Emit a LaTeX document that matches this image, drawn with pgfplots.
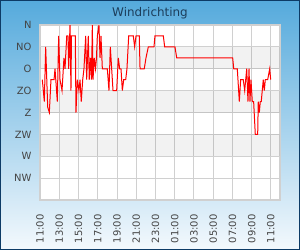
\documentclass[border=0pt]{standalone}
\usepackage{pgfplots}
\pgfplotsset{compat=1.18}
\usepackage{fontspec}
\setmainfont{DejaVu Sans}
\definecolor{bgtop}{HTML}{55AADC}
\definecolor{bgbot}{HTML}{F4F9FD}
\definecolor{frame}{HTML}{0D3B66}
\definecolor{titlec}{HTML}{1C3D5A}
\definecolor{gridc}{HTML}{D0D0D0}
\definecolor{tickc}{HTML}{444444}
\begin{document}
\begin{tikzpicture}[x=1bp,y=1bp]
\shade[top color=bgtop, bottom color=bgbot] (0,0) rectangle (300,250);
\draw[frame, line width=1.5bp] (0.75,0.75) rectangle (299.25,249.25);
\node[titlec, font=\fontsize{12}{14}\selectfont] at (150,237) {Windrichting};
\begin{axis}[
  at={(40bp,50bp)}, anchor=south west,
  width=240bp, height=175bp, scale only axis,
  xmin=0, xmax=24.95, ymin=0, ymax=8,
  y dir=reverse,
  axis background/.style={fill=white},
  ytick={0,1,2,3,4,5,6,7},
  yticklabels={N,NO,O,ZO,Z,ZW,W,NW},
  xtick={0,2,4,6,8,10,12,14,16,18,20,22,24},
  xticklabels={11:00,13:00,15:00,17:00,19:00,21:00,23:00,01:00,03:00,05:00,07:00,09:00,11:00},
  major tick length=0pt,
  grid=major,
  grid style={gridc, line width=0.9bp},
  axis line style={gridc, line width=1.2bp},
  tick label style={tickc, font=\fontsize{10}{12}\selectfont},
  yticklabel style={xshift=-5bp},
  xticklabel style={rotate=90, anchor=east, xshift=-11bp},
]
\fill[black, fill opacity=0.05] (axis cs:0,1) rectangle (axis cs:24.95,2);
\fill[black, fill opacity=0.05] (axis cs:0,3) rectangle (axis cs:24.95,4);
\fill[black, fill opacity=0.05] (axis cs:0,5) rectangle (axis cs:24.95,6);
\addplot[red, line width=1bp, mark=none] coordinates {
(0.24,2.5)(0.45,3.5)(0.59,1)(0.80,3.75)(0.97,4)(1.14,2.5)(1.46,2.5)(1.56,2)
(1.80,3.5)(1.94,0.5)(2.08,2.5)(2.29,3)(2.49,1.5)(2.60,2)(2.78,0.5)(2.91,0.5)
(2.98,2)(3.12,0)(3.22,3)(3.27,0.5)(3.67,0.5)(3.74,4)(3.88,2.5)(4.05,3)
(4.16,2.5)(4.29,3.5)(4.44,2.5)(4.57,2)(4.75,0.5)(4.85,2.5)(5.02,0.5)(5.12,2.5)
(5.25,1.5)(5.35,2.5)(5.44,0)(5.51,2.5)(5.64,1.5)(5.77,2)(5.87,1.5)(5.96,0.5)
(6.13,0)(6.24,1.5)(6.34,0.5)(6.48,2)(7.00,2)(7.17,3)(7.31,1)(7.45,2)
(7.59,3)(7.97,3)(8.14,1.5)(8.28,2)(8.42,2)(8.56,3)(8.70,2.5)(8.91,2.5)
(9.04,2)(9.22,0.5)(9.70,0.5)(9.84,1)(9.98,0.5)(10.32,0.5)(10.40,2)(10.84,2)
(11.02,1.5)(11.26,1)(11.85,1)(11.95,0.5)(12.82,0.5)(12.96,1)(14.03,1)(14.21,1.5)
(20.03,1.5)(20.14,2)(20.51,2)(20.72,3.5)(20.86,2.5)(21.13,2.5)(21.28,3)(21.49,2)
(21.62,3.5)(21.73,2)(21.83,3.5)(21.93,2.5)(22.07,3.5)(22.21,3.5)(22.38,5)(22.63,5)
(22.69,3.5)(22.80,4)(22.90,3.5)(23.00,3.5)(23.21,2.5)(23.32,3)(23.42,2.5)(23.67,2.5)
(23.88,2)(23.98,2.5)
};
\end{axis}
\pgfresetboundingbox
\useasboundingbox (0,0) rectangle (300,250);
\end{tikzpicture}
\end{document}
